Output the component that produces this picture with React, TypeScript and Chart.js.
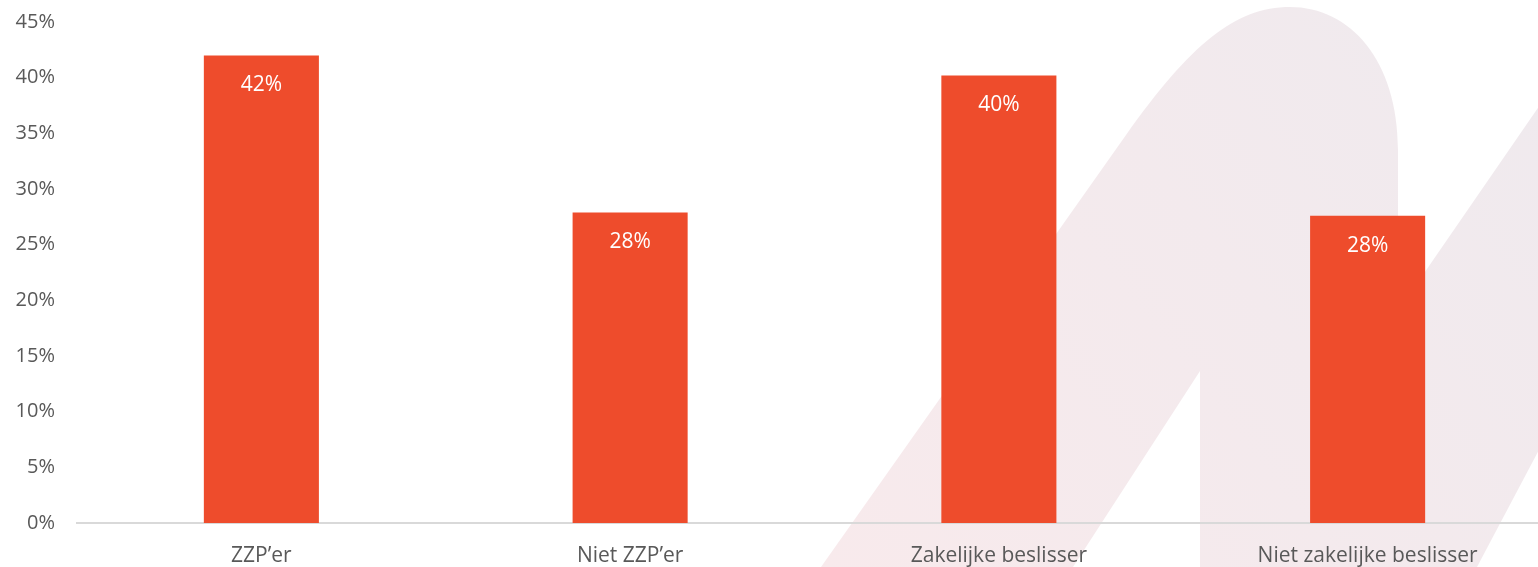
import React, { useEffect, useRef } from "react";
import { Chart, registerables } from "chart.js";

Chart.register(...registerables);

const categories = ["ZZP’er", "Niet ZZP’er", "Zakelijke beslisser", "Niet zakelijke beslisser"];
const values = [42, 27.9, 40.2, 27.6];
const valueLabels = ["42%", "28%", "40%", "28%"];
const yMax = 45;
const yStep = 5;

const CANVAS_W = 1552;
const CANVAS_H = 567;
const FONT = "'Open Sans', 'Noto Sans', sans-serif";

const watermarkPlugin = {
  id: "watermark",
  beforeDraw(chart: any) {
    const ctx = chart.ctx;
    ctx.save();
    const g = ctx.createLinearGradient(821, 567, 1538, 0);
    g.addColorStop(0, "#f8eaec");
    g.addColorStop(1, "#efeaee");
    ctx.fillStyle = g;
    ctx.beginPath();
    ctx.moveTo(821, 567);
    ctx.lineTo(1126, 135);
    ctx.bezierCurveTo(1190, 45, 1235, 7, 1290, 7);
    ctx.bezierCurveTo(1350, 7, 1398, 60, 1398, 150);
    ctx.lineTo(1398, 311);
    ctx.lineTo(1560, 76);
    ctx.lineTo(1560, 410);
    ctx.lineTo(1477, 567);
    ctx.lineTo(1200, 567);
    ctx.lineTo(1200, 371);
    ctx.lineTo(1073, 567);
    ctx.closePath();
    ctx.fill();
    ctx.restore();
  },
};

const valueLabelPlugin = {
  id: "valueLabels",
  afterDatasetsDraw(chart: any) {
    const ctx = chart.ctx;
    const meta = chart.getDatasetMeta(0);
    ctx.save();
    ctx.fillStyle = "#ffffff";
    ctx.font = `21px ${FONT}`;
    ctx.textAlign = "center";
    ctx.textBaseline = "middle";
    meta.data.forEach((bar: any, i: number) => {
      ctx.fillText(valueLabels[i], bar.x, bar.y + 30);
    });
    ctx.restore();
  },
};

export default function App() {
  const ref = useRef<HTMLCanvasElement>(null);
  useEffect(() => {
    document.body.style.margin = "0";
    const chart = new Chart(ref.current as HTMLCanvasElement, {
      type: "bar",
      data: {
        labels: categories,
        datasets: [
          {
            data: values,
            backgroundColor: "#ee4c2c",
            borderWidth: 0,
            categoryPercentage: 1,
            barPercentage: 0.312,
          },
        ],
      },
      options: {
        responsive: false,
        animation: false,
        layout: { padding: { top: 0, left: 0, right: 0, bottom: 0 } },
        plugins: { legend: { display: false }, tooltip: { enabled: false } },
        scales: {
          x: {
            grid: { display: false, drawTicks: false },
            border: { display: true, color: "#d9d9d9", width: 2 },
            ticks: {
              color: "#595959",
              font: { family: FONT, size: 21 },
              padding: 20,
              maxRotation: 0,
            },
            afterFit(scale: any) {
              scale.height = 44;
            },
          },
          y: {
            min: 0,
            max: yMax,
            grid: { display: false, drawTicks: false },
            border: { display: false },
            ticks: {
              stepSize: yStep,
              color: "#595959",
              font: { family: FONT, size: 20 },
              padding: 22,
              callback: (v: any) => `${v}%`,
            },
            afterFit(scale: any) {
              scale.width = 77;
              scale.paddingTop = 22;
              scale.paddingBottom = 0;
            },
          },
        },
      },
      plugins: [watermarkPlugin, valueLabelPlugin],
    });
    return () => chart.destroy();
  }, []);
  return (
    <div style={{ width: 1538, height: CANVAS_H, overflow: "hidden" }}>
      <canvas ref={ref} width={CANVAS_W} height={CANVAS_H} style={{ display: "block" }} />
    </div>
  );
}
